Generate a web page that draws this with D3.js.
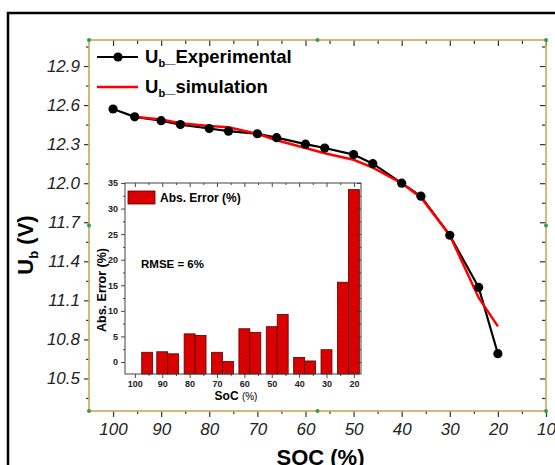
<!DOCTYPE html>
<html lang="en">
<head>
<meta charset="UTF-8"/>
<title>Ub vs SOC</title>
<script src="https://d3js.org/d3.v7.min.js"></script>
<style>
  body { margin: 0; background: #fff; }
  svg { display: block; font-family: "Liberation Sans", Arial, sans-serif; }
</style>
</head>
<body>
<script>
    // Main chart data: battery voltage vs state of charge
    var soc = [100, 95.5, 90, 86, 80, 76, 70, 66, 60, 56, 50, 46, 40, 36, 30, 24, 20];
    var uExp = [12.57, 12.51, 12.48, 12.45, 12.42, 12.40, 12.38, 12.35, 12.30, 12.27, 12.22, 12.15, 12.00, 11.90, 11.60, 11.20, 10.69];
    var socSim = [95.5, 90, 86, 80, 76, 70, 66, 60, 56, 50, 46, 40, 36, 30, 24, 20];
    var uSim = [12.51, 12.49, 12.46, 12.44, 12.43, 12.38, 12.33, 12.27, 12.23, 12.18, 12.12, 12.00, 11.89, 11.60, 11.12, 10.90];

    // Inset data: absolute error
    var socErr = [95.5, 90, 86, 80, 76, 70, 66, 60, 56, 50, 46, 40, 36, 30, 24, 20];
    var absErr = [1.9, 2.0, 1.6, 5.5, 5.2, 1.9, 0.1, 6.5, 5.8, 6.9, 9.3, 0.9, 0.2, 2.4, 15.6, 33.7];

    // Tick values
    var xTicks = [100, 90, 80, 70, 60, 50, 40, 30, 20, 10];
    var xMinor = [95, 85, 75, 65, 55, 45, 35, 25, 15];
    var yTicks = [10.5, 10.8, 11.1, 11.4, 11.7, 12.0, 12.3, 12.6, 12.9];
    var yMinor = [10.35, 10.65, 10.95, 11.25, 11.55, 11.85, 12.15, 12.45, 12.75, 13.05];
    var inXTicks = [100, 90, 80, 70, 60, 50, 40, 30, 20];
    var inXMinor = [95, 85, 75, 65, 55, 45, 35, 25];
    var inYTicks = [0, 5, 10, 15, 20, 25, 30, 35];
    var inYMinor = [2.5, 7.5, 12.5, 17.5, 22.5, 27.5, 32.5];

    var w = 555, h = 465;
    var pL = 89, pR = 546, pT = 40, pB = 411;
    var axisColour = "#c8aa55";

    var svg = d3.select("body").append("svg")
        .attr("width", w)
        .attr("height", h);

    // Hatch pattern for bars
    var defs = svg.append("defs");
    var pat = defs.append("pattern")
        .attr("id", "hatch")
        .attr("patternUnits", "userSpaceOnUse")
        .attr("width", 3).attr("height", 3)
        .attr("patternTransform", "rotate(45)");
    pat.append("rect").attr("width", 3).attr("height", 3).attr("fill", "#e20000");
    pat.append("line").attr("x1", 0).attr("y1", 0).attr("x2", 0).attr("y2", 3)
        .attr("stroke", "#b00000").attr("stroke-width", 1);

    // Outer frame
    svg.append("rect")
        .attr("x", 8).attr("y", 13)
        .attr("width", 560).attr("height", 470)
        .attr("fill", "none")
        .attr("stroke", "#000")
        .attr("stroke-width", 2.5);

    // Scales
    var x = d3.scaleLinear().domain([105, 10]).range([pL, pR]);
    var y = d3.scaleLinear().domain([10.25, 13.1]).range([pB, pT]);

    function tidy(g) {
        g.select(".domain").remove();
        g.selectAll(".tick line").attr("stroke", "#333").attr("stroke-width", 1.2);
    }

    // Bottom axis
    svg.append("g")
        .attr("transform", "translate(0," + pB + ")")
        .call(d3.axisBottom(x).tickValues(xTicks).tickSize(6).tickPadding(6))
        .call(tidy)
        .selectAll("text")
        .attr("font-size", 17).attr("font-style", "italic").attr("fill", "#222");
    svg.append("g")
        .attr("transform", "translate(0," + pB + ")")
        .call(d3.axisBottom(x).tickValues(xMinor).tickSize(3).tickFormat(""))
        .call(tidy);

    // Top axis (inward ticks)
    svg.append("g")
        .attr("transform", "translate(0," + pT + ")")
        .call(d3.axisTop(x).tickValues(xTicks).tickSize(-6).tickFormat(""))
        .call(tidy);
    svg.append("g")
        .attr("transform", "translate(0," + pT + ")")
        .call(d3.axisTop(x).tickValues(xMinor).tickSize(-4).tickFormat(""))
        .call(tidy);

    // Left axis
    svg.append("g")
        .attr("transform", "translate(" + pL + ",0)")
        .call(d3.axisLeft(y).tickValues(yTicks).tickSize(5).tickPadding(4).tickFormat(d3.format(".1f")))
        .call(tidy)
        .selectAll("text")
        .attr("font-size", 17).attr("font-style", "italic").attr("fill", "#222");
    svg.append("g")
        .attr("transform", "translate(" + pL + ",0)")
        .call(d3.axisLeft(y).tickValues(yMinor).tickSize(3).tickFormat(""))
        .call(tidy);

    // Right axis (inward ticks)
    svg.append("g")
        .attr("transform", "translate(" + pR + ",0)")
        .call(d3.axisRight(y).tickValues(yTicks).tickSize(-6).tickFormat(""))
        .call(tidy);
    svg.append("g")
        .attr("transform", "translate(" + pR + ",0)")
        .call(d3.axisRight(y).tickValues(yMinor).tickSize(-4).tickFormat(""))
        .call(tidy);

    // Axis frame lines
    svg.append("rect")
        .attr("x", pL).attr("y", pT)
        .attr("width", pR - pL).attr("height", pB - pT)
        .attr("fill", "none")
        .attr("stroke", axisColour)
        .attr("stroke-width", 1.6);

    // Selection handles (green dots)
    var handles = [[pL, pT], [(pL + pR) / 2, pT], [pR, pT],
                   [pL, (pT + pB) / 2], [pR, (pT + pB) / 2],
                   [pL, pB], [(pL + pR) / 2, pB], [pR, pB]];
    svg.selectAll(".handle").data(handles).enter().append("circle")
        .attr("class", "handle")
        .attr("cx", d => d[0]).attr("cy", d => d[1]).attr("r", 2)
        .attr("fill", "#2fa04a");

    // Axis titles
    svg.append("text")
        .attr("x", (pL + pR) / 2 + 3).attr("y", 465)
        .attr("text-anchor", "middle")
        .attr("font-size", 22).attr("font-weight", "bold")
        .text("SOC (%)");

    var yt = svg.append("text")
        .attr("transform", "translate(33,245) rotate(-90)")
        .attr("text-anchor", "middle")
        .attr("font-size", 22).attr("font-weight", "bold");
    yt.append("tspan").text("U");
    yt.append("tspan").attr("font-size", 13).attr("dy", 5).text("b");
    yt.append("tspan").attr("dy", -5).text(" (V)");

    // Lines
    var line = d3.line().x(d => x(d[0])).y(d => y(d[1]));
    var expPts = soc.map((s, i) => [s, uExp[i]]);
    var simPts = socSim.map((s, i) => [s, uSim[i]]);

    svg.append("path")
        .datum(expPts)
        .attr("d", line)
        .attr("fill", "none")
        .attr("stroke", "#000")
        .attr("stroke-width", 2.2);

    svg.append("path")
        .datum(simPts)
        .attr("d", line)
        .attr("fill", "none")
        .attr("stroke", "#ff0000")
        .attr("stroke-width", 2.5);

    svg.selectAll(".pt").data(expPts).enter().append("circle")
        .attr("class", "pt")
        .attr("cx", d => x(d[0])).attr("cy", d => y(d[1]))
        .attr("r", 4.6)
        .attr("fill", "#000");

    // Legend
    var lg = svg.append("g");
    lg.append("line").attr("x1", 97).attr("x2", 138).attr("y1", 57).attr("y2", 57)
        .attr("stroke", "#000").attr("stroke-width", 2.2);
    lg.append("circle").attr("cx", 118).attr("cy", 57).attr("r", 4.6).attr("fill", "#000");
    lg.append("line").attr("x1", 97).attr("x2", 138).attr("y1", 87).attr("y2", 87)
        .attr("stroke", "#ff0000").attr("stroke-width", 2.5);

    var l1 = lg.append("text").attr("x", 145).attr("y", 63)
        .attr("font-size", 18.5).attr("font-weight", "bold");
    l1.append("tspan").text("U");
    l1.append("tspan").attr("font-size", 11).attr("dy", 4).text("b");
    l1.append("tspan").attr("dy", -4).text("_Experimental");

    var l2 = lg.append("text").attr("x", 145).attr("y", 93)
        .attr("font-size", 18.5).attr("font-weight", "bold");
    l2.append("tspan").text("U");
    l2.append("tspan").attr("font-size", 11).attr("dy", 4).text("b");
    l2.append("tspan").attr("dy", -4).text("_simulation");

    // ---------- Inset bar chart ----------
    var iL = 125, iR = 361, iT = 183, iB = 374;
    var ix = d3.scaleLinear().domain([103.6, 17.4]).range([iL, iR]);
    var iy = d3.scaleLinear().domain([-2.35, 35]).range([iB, iT]);
    var inset = svg.append("g");

    inset.append("rect")
        .attr("x", iL).attr("y", iT).attr("width", iR - iL).attr("height", iB - iT)
        .attr("fill", "#fff");

    var barW = ix(0) - ix(4);
    inset.selectAll(".bar").data(absErr).enter().append("rect")
        .attr("class", "bar")
        .attr("x", (d, i) => ix(socErr[i]) - barW / 2)
        .attr("y", d => iy(d))
        .attr("width", barW)
        .attr("height", d => iy(-2.35) - iy(d))
        .attr("fill", "url(#hatch)")
        .attr("stroke", "#5a0000")
        .attr("stroke-width", 0.8);

    function tidyIn(g) {
        g.select(".domain").remove();
        g.selectAll(".tick line").attr("stroke", "#333").attr("stroke-width", 0.9);
    }

    inset.append("g")
        .attr("transform", "translate(0," + iB + ")")
        .call(d3.axisBottom(ix).tickValues(inXTicks).tickSize(4).tickPadding(3))
        .call(tidyIn)
        .selectAll("text")
        .attr("font-size", 9).attr("font-weight", "bold").attr("fill", "#222");
    inset.append("g")
        .attr("transform", "translate(0," + iB + ")")
        .call(d3.axisBottom(ix).tickValues(inXMinor).tickSize(2).tickFormat(""))
        .call(tidyIn);
    inset.append("g")
        .attr("transform", "translate(0," + iT + ")")
        .call(d3.axisTop(ix).tickValues(inXTicks).tickSize(-4).tickFormat(""))
        .call(tidyIn);
    inset.append("g")
        .attr("transform", "translate(0," + iT + ")")
        .call(d3.axisTop(ix).tickValues(inXMinor).tickSize(-2).tickFormat(""))
        .call(tidyIn);

    inset.append("g")
        .attr("transform", "translate(" + iL + ",0)")
        .call(d3.axisLeft(iy).tickValues(inYTicks).tickSize(4).tickPadding(3))
        .call(tidyIn)
        .selectAll("text")
        .attr("font-size", 9).attr("font-weight", "bold").attr("fill", "#222");
    inset.append("g")
        .attr("transform", "translate(" + iL + ",0)")
        .call(d3.axisLeft(iy).tickValues(inYMinor).tickSize(2).tickFormat(""))
        .call(tidyIn);
    inset.append("g")
        .attr("transform", "translate(" + iR + ",0)")
        .call(d3.axisRight(iy).tickValues(inYTicks).tickSize(-4).tickFormat(""))
        .call(tidyIn);
    inset.append("g")
        .attr("transform", "translate(" + iR + ",0)")
        .call(d3.axisRight(iy).tickValues(inYMinor).tickSize(-2).tickFormat(""))
        .call(tidyIn);

    inset.append("rect")
        .attr("x", iL).attr("y", iT).attr("width", iR - iL).attr("height", iB - iT)
        .attr("fill", "none")
        .attr("stroke", "#444")
        .attr("stroke-width", 1);

    // Inset legend and notes
    inset.append("rect")
        .attr("x", 128).attr("y", 191).attr("width", 27).attr("height", 13)
        .attr("fill", "url(#hatch)").attr("stroke", "#5a0000").attr("stroke-width", 0.8);
    inset.append("text").attr("x", 160).attr("y", 202)
        .attr("font-size", 12).attr("font-weight", "bold")
        .text("Abs. Error (%)");
    inset.append("text").attr("x", 141).attr("y", 268)
        .attr("font-size", 11.5).attr("font-weight", "bold")
        .text("RMSE = 6%");

    var ixt = inset.append("text").attr("x", 236).attr("y", 400)
        .attr("text-anchor", "middle").attr("font-size", 12).attr("font-weight", "bold");
    ixt.append("tspan").text("SoC ");
    ixt.append("tspan").attr("font-size", 10).attr("font-weight", "normal").text("(%)");

    inset.append("text")
        .attr("transform", "translate(106,290) rotate(-90)")
        .attr("text-anchor", "middle")
        .attr("font-size", 12.5).attr("font-weight", "bold")
        .text("Abs. Error (%)");
</script>
</body>
</html>
